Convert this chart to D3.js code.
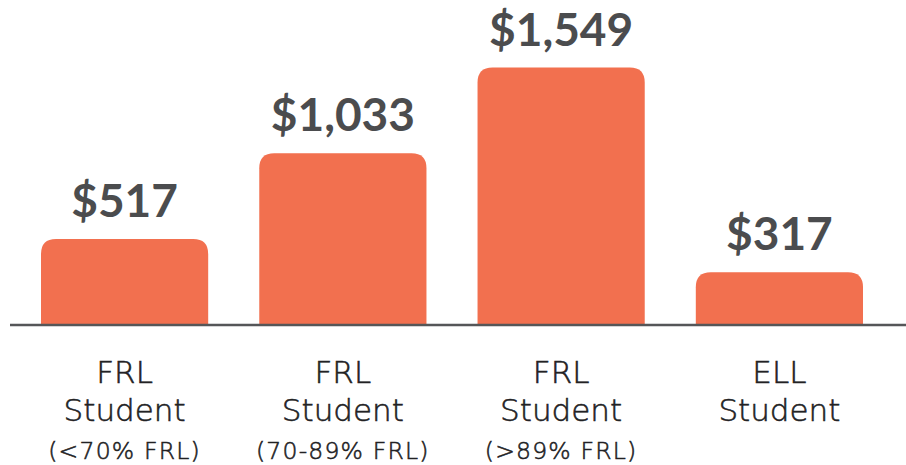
<!DOCTYPE html>
<html>
<head>
<meta charset="utf-8">
<script src="https://cdn.jsdelivr.net/npm/d3@7"></script>
<style>
  html, body { margin: 0; padding: 0; background: #ffffff; }
  svg { display: block; }
</style>
</head>
<body>
<svg id="chart" width="906" height="465"></svg>
<script>
// ---- data ----
const categories = ["FRL<70", "FRL70-89", "FRL>89", "ELL"];
const labelLine1 = ["FRL", "FRL", "FRL", "ELL"];
const labelLine2 = ["Student", "Student", "Student", "Student"];
const labelLine3 = ["(<70% FRL)", "(70-89% FRL)", "(>89% FRL)", ""];
const values = [517, 1033, 1549, 317];
const valueLabels = ["$517", "$1,033", "$1,549", "$317"];

// ---- layout ----
const W = 906, H = 465;
const baseY = 325;
const svg = d3.select("#chart");

const x = d3.scaleBand()
  .domain(categories)
  .range([41, 863])
  .paddingInner(0.234)
  .paddingOuter(0);

const y = d3.scaleLinear()
  .domain([0, d3.max(values)])
  .range([baseY, 67.5]);

const barColor = "#F2704F";
const textColor = "#4b4c4e";
const r = 15;

function barPath(x0, w, yTop, yBot) {
  const rr = Math.min(r, w / 2, (yBot - yTop));
  return `M${x0},${yBot}` +
    `L${x0},${yTop + rr}` +
    `Q${x0},${yTop} ${x0 + rr},${yTop}` +
    `L${x0 + w - rr},${yTop}` +
    `Q${x0 + w},${yTop} ${x0 + w},${yTop + rr}` +
    `L${x0 + w},${yBot}Z`;
}

const data = categories.map((c, i) => ({
  c, v: values[i], lab: valueLabels[i],
  l1: labelLine1[i], l2: labelLine2[i], l3: labelLine3[i]
}));

// bars
svg.append("g").selectAll("path")
  .data(data)
  .join("path")
  .attr("d", d => barPath(x(d.c), x.bandwidth(), y(d.v), baseY))
  .attr("fill", barColor);

// baseline
svg.append("line")
  .attr("x1", 10).attr("x2", W)
  .attr("y1", baseY).attr("y2", baseY)
  .attr("stroke", "#555658")
  .attr("stroke-width", 2.5);

// value labels
svg.append("g").selectAll("text")
  .data(data)
  .join("text")
  .attr("x", d => x(d.c) + x.bandwidth() / 2)
  .attr("y", d => y(d.v) - 22)
  .attr("text-anchor", "middle")
  .attr("font-family", "Lato, 'Open Sans', sans-serif")
  .attr("font-weight", 700)
  .attr("font-size", 46)
  .attr("fill", textColor)
  .text(d => d.lab);

// category labels
const lab = svg.append("g")
  .attr("font-family", "'DejaVu Sans', sans-serif")
  .attr("font-weight", 200)
  .attr("fill", "#222224")
  .attr("stroke", "#222224")
  .attr("stroke-width", 0.55)
  .attr("text-anchor", "middle");

lab.selectAll("text.l1").data(data).join("text")
  .attr("class", "l1")
  .attr("x", d => x(d.c) + x.bandwidth() / 2)
  .attr("y", 383)
  .attr("font-size", 31)
  .text(d => d.l1);

lab.selectAll("text.l2").data(data).join("text")
  .attr("class", "l2")
  .attr("x", d => x(d.c) + x.bandwidth() / 2)
  .attr("y", 421)
  .attr("font-size", 31)
  .text(d => d.l2);

lab.selectAll("text.l3").data(data.filter(d => d.l3)).join("text")
  .attr("class", "l3")
  .attr("x", d => x(d.c) + x.bandwidth() / 2)
  .attr("y", 459)
  .attr("font-size", 23.5)
  .attr("letter-spacing", 1.2)
  .text(d => d.l3);
</script>
</body>
</html>
